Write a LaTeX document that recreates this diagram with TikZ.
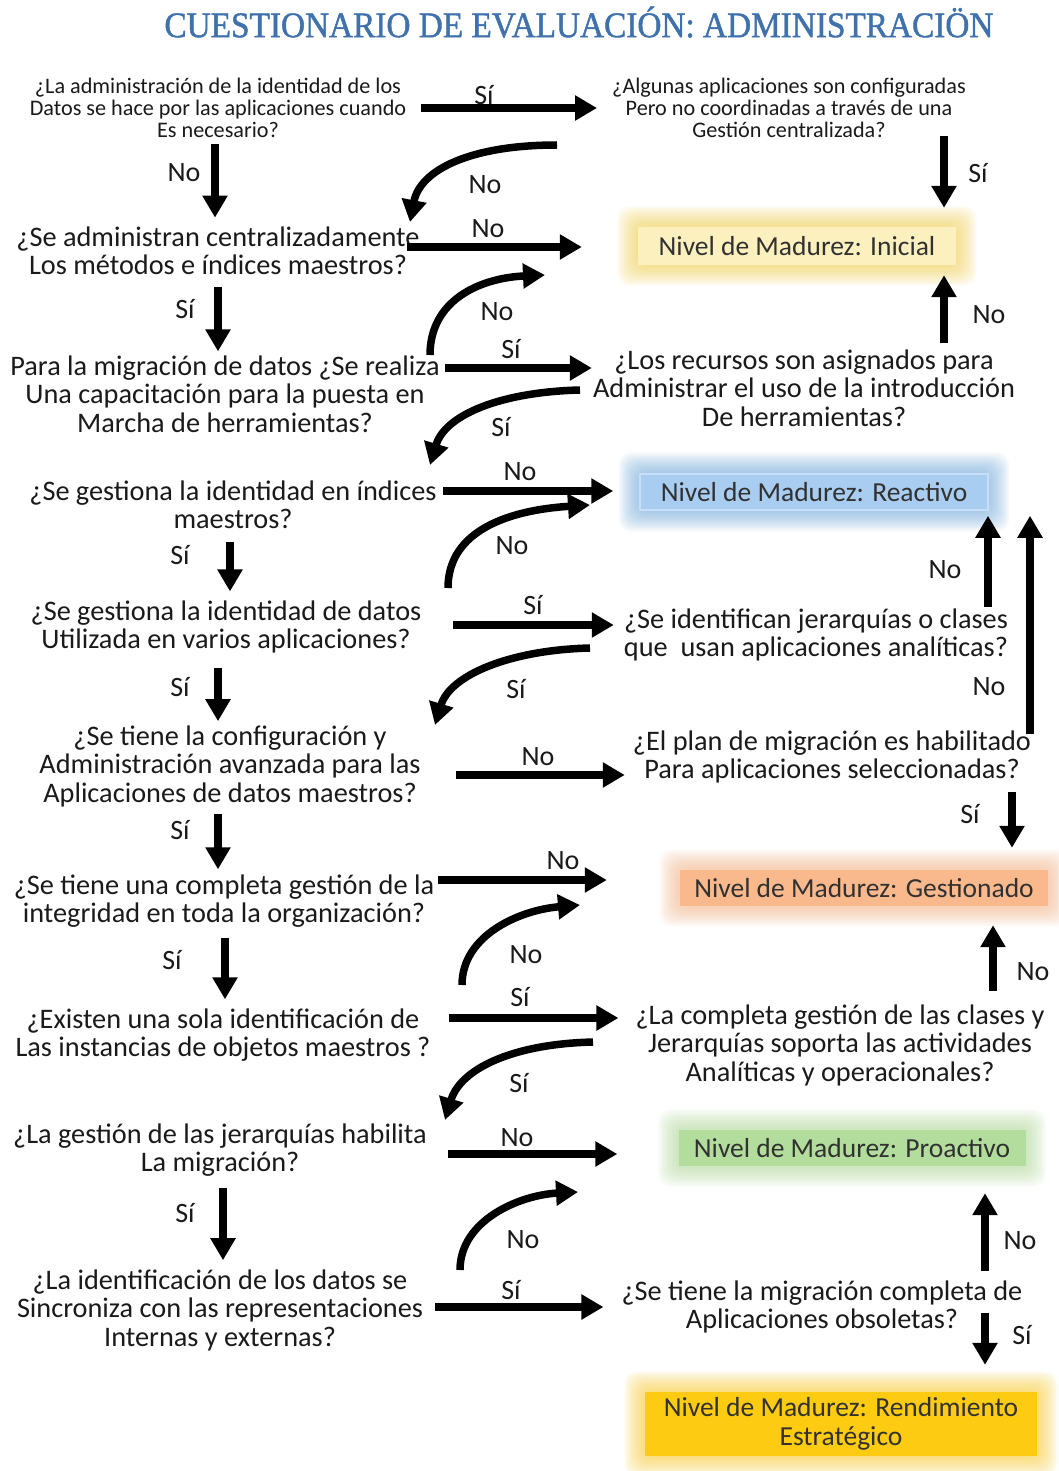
\documentclass[tikz,border=0pt]{standalone}
\usepackage{fontspec}
\setmainfont{Carlito}
\newfontfamily\titlefont[FakeStretch=0.925,FakeBold=1.2]{Liberation Serif}
\usetikzlibrary{arrows.meta,backgrounds,calc}

\definecolor{txt}{HTML}{1A1A1A}
\definecolor{titleblue}{HTML}{3F71AC}
\definecolor{iniGlow}{HTML}{F6D04A}
\definecolor{iniFill}{HTML}{FCF0BE}
\definecolor{reaGlow}{HTML}{6FA8DC}
\definecolor{reaFill}{HTML}{A9CDF0}
\definecolor{reaLine}{HTML}{C6DFF6}
\definecolor{gesGlow}{HTML}{F8B488}
\definecolor{gesFill}{HTML}{F9B98C}
\definecolor{proGlow}{HTML}{B2DA98}
\definecolor{proFill}{HTML}{B3DD9C}
\definecolor{renGlow}{HTML}{FBCB2A}
\definecolor{renFill}{HTML}{FCCB12}

% soft halo drawn behind a level box
\newcommand\glowbox[3]{%
  \begin{pgfonlayer}{background}
    \foreach \k in {1,...,#3}{
      \fill[#2, opacity=0.065, rounded corners=12pt]
        ($(#1.south west)+(-1.7*\k,1.7*\k)$) rectangle ($(#1.north east)+(1.7*\k,-1.7*\k)$);
    }
  \end{pgfonlayer}}

\begin{document}
\begin{tikzpicture}[x=1pt,y=-1pt,
  q/.style={align=center,inner sep=0pt,text=txt,font=\fontsize{28.3}{28.5}\selectfont},
  qs/.style={align=center,inner sep=0pt,text=txt,font=\fontsize{22.2}{22}\selectfont},
  lbl/.style={inner sep=0pt,text=txt,font=\fontsize{28}{28}\selectfont},
  level/.style={align=center,inner sep=0pt,text=txt!90,font=\fontsize{27.5}{29}\selectfont},
  arr/.style={draw=black,line width=7.5pt,-{Triangle[width=24pt,length=22pt]}},
]
\begin{pgfonlayer}{background}
  \fill[white] (0,0) rectangle (1058,1471);
\end{pgfonlayer}
\useasboundingbox (0,0) rectangle (1058,1471);

% title
\node[text=titleblue,font=\titlefont\fontsize{36}{36}\selectfont] (title) at (579,22)
  {CUESTIONARIO DE EVALUACIÓN: ADMINISTRACIÖN};

% questions, left column
\node[qs] (q1) at (218,108) {¿La administración de la identidad de los\\Datos se hace por las aplicaciones cuando\\Es necesario?};
\node[q] (q3) at (218,251) {¿Se administran centralizadamente\\Los métodos e índices maestros?};
\node[q] (q4) at (225,394) {Para la migración de datos ¿Se realiza\\Una capacitación para la puesta en\\Marcha de herramientas?};
\node[q] (q6) at (233,505) {¿Se gestiona la identidad en índices\\maestros?};
\node[q] (q7) at (226,627) {¿Se gestiona la identidad de datos\\Utilizada en varios aplicaciones?};
\node[q] (q9) at (230,766) {¿Se tiene la configuración y\\Administración avanzada para las\\Aplicaciones de datos maestros?};
\node[q] (q11) at (224,901) {¿Se tiene una completa gestión de la\\integridad en toda la organización?};
\node[q] (q13) at (223,1035) {¿Existen una sola identificación de\\Las instancias de objetos maestros ?};
\node[q] (q14) at (220,1150) {¿La gestión de las jerarquías habilita\\La migración?};
\node[q] (q16) at (220,1310) {¿La identificación de los datos se\\Sincroniza con las representaciones\\Internas y externas?};

% questions, right column
\node[qs] (q2) at (789,108) {¿Algunas aplicaciones son configuradas\\Pero no coordinadas a través de una\\Gestión centralizada?};
\node[q] (q5) at (804,388) {¿Los recursos son asignados para\\Administrar el uso de la introducción\\De herramientas?};
\node[q] (q8) at (816,635) {¿Se identifican jerarquías o clases\\que\ \ usan aplicaciones analíticas?};
\node[q] (q10) at (832,757) {¿El plan de migración es habilitado\\Para aplicaciones seleccionadas?};
\node[q] (q12) at (840,1045) {¿La completa gestión de las clases y\\Jerarquías soporta las actividades\\Analíticas y operacionales?};
\node[q] (q15) at (822,1307) {¿Se tiene la migración completa de\\Aplicaciones obsoletas?};

% maturity levels
\node[level,fill=iniFill,minimum width=318pt,minimum height=38pt] (inicial) at (797,246) {Nivel de Madurez: Inicial};
\node[level,fill=reaFill,draw=reaLine,line width=1.5pt,minimum width=348pt,minimum height=36pt] (reactivo) at (814,492) {Nivel de Madurez: Reactivo};
\node[level,fill=gesFill,minimum width=368pt,minimum height=36pt] (gestionado) at (864,888) {Nivel de Madurez: Gestionado};
\node[level,fill=proFill,minimum width=347pt,minimum height=36pt] (proactivo) at (852,1148) {Nivel de Madurez: Proactivo};
\node[level,fill=renFill,minimum width=392pt,minimum height=64pt] (rendimiento) at (841,1424) {Nivel de Madurez: Rendimiento\\Estratégico};

\glowbox{inicial}{iniGlow}{12}
\glowbox{reactivo}{reaGlow}{12}
\glowbox{gestionado}{gesGlow}{12}
\glowbox{proactivo}{proGlow}{12}
\glowbox{rendimiento}{renGlow}{12}

% straight connectors
\draw[arr,shorten <=15pt,shorten >=15pt] (q1.east |- 0,108) -- (q2.west |- 0,108);
\draw[arr,shorten <=-2pt,shorten >=19pt] (q2.south -| 944,0) -- (inicial.north -| 944,0);
\draw[arr,shorten <=6pt,shorten >=9pt] (q1.south -| 215,0) -- (q3.north -| 215,0);
\draw[arr,shorten <=-13pt,shorten >=56pt] (q3.east |- 0,247) -- (inicial.west |- 0,247);
\draw[arr,shorten <=6pt,shorten >=10pt] (q5.north -| 944,0) -- (inicial.south -| 944,0);
\draw[arr,shorten <=12pt,shorten >=4pt] (q3.south -| 218,0) -- (q4.north -| 218,0);
\draw[arr,shorten <=5pt,shorten >=1pt] (q4.east |- 0,368) -- (q5.west |- 0,368);
\draw[arr,shorten <=6pt,shorten >=26pt] (q6.east |- 0,491) -- (reactivo.west |- 0,491);
\draw[arr,shorten <=13pt,shorten >=9pt] (q6.south -| 230,0) -- (q7.north -| 230,0);
\draw[arr,shorten <=31pt,shorten >=10pt] (q7.east |- 0,625) -- (q8.west |- 0,625);
\draw[arr,shorten <=1pt,shorten >=5pt] (q8.north -| 988,0) -- (reactivo.south -| 988,0);
\draw[arr,shorten <=14pt,shorten >=4pt] (q7.south -| 218,0) -- (q9.north -| 218,0);
\draw[arr,shorten <=35pt,shorten >=8pt] (q9.east |- 0,775) -- (q10.west |- 0,775);
\draw[arr,shorten <=-4pt,shorten >=5pt] (q10.north -| 1030,0) -- (reactivo.south -| 1030,0);
\draw[arr,shorten <=8pt,shorten >=22pt] (q10.south -| 1012,0) -- (gestionado.north -| 1012,0);
\draw[arr,shorten <=7pt,shorten >=5pt] (q9.south -| 218,0) -- (q11.north -| 218,0);
\draw[arr,shorten <=4pt,shorten >=73pt] (q11.east |- 0,880) -- (gestionado.west |- 0,880);
\draw[arr,shorten <=13pt,shorten >=19pt] (q12.north -| 993,0) -- (gestionado.south -| 993,0);
\draw[arr,shorten <=10pt,shorten >=9pt] (q11.south -| 225,0) -- (q13.north -| 225,0);
\draw[arr,shorten <=18pt,shorten >=17pt] (q13.east |- 0,1018) -- (q12.west |- 0,1018);
\draw[arr,shorten <=21pt,shorten >=61pt] (q14.east |- 0,1154) -- (proactivo.west |- 0,1154);
\draw[arr,shorten <=9pt,shorten >=27pt] (q15.north -| 985,0) -- (proactivo.south -| 985,0);
\draw[arr,shorten <=11pt,shorten >=9pt] (q14.south -| 223,0) -- (q16.north -| 223,0);
\draw[arr,shorten <=12pt,shorten >=18pt] (q16.east |- 0,1307) -- (q15.west |- 0,1307);
\draw[arr,shorten <=-21pt,shorten >=27pt] (q15.south -| 985,0) -- (rendimiento.north -| 985,0);

% curved connectors
\coordinate (c1s) at (557,145);  \coordinate (c1e) at (410,222);
\coordinate (c2s) at (430,355);  \coordinate (c2e) at (545,275);
\coordinate (c3s) at (580,390);  \coordinate (c3e) at (430,465);
\coordinate (c4s) at (448,588);  \coordinate (c4e) at (590,505);
\coordinate (c5s) at (590,648);  \coordinate (c5e) at (435,725);
\coordinate (c6s) at (462,985);  \coordinate (c6e) at (580,905);
\coordinate (c7s) at (593,1042); \coordinate (c7e) at (445,1120);
\coordinate (c8s) at (460,1270); \coordinate (c8e) at (578,1192);
\draw[arr] (c1s) .. controls (470,145) and (420,170) .. (c1e);
\draw[arr] (c2s) .. controls (430,300) and (480,278) .. (c2e);
\draw[arr] (c3s) .. controls (500,392) and (445,415) .. (c3e);
\draw[arr] (c4s) .. controls (448,530) and (510,510) .. (c4e);
\draw[arr] (c5s) .. controls (510,650) and (450,675) .. (c5e);
\draw[arr] (c6s) .. controls (462,935) and (520,910) .. (c6e);
\draw[arr] (c7s) .. controls (510,1044) and (460,1070) .. (c7e);
\draw[arr] (c8s) .. controls (460,1220) and (520,1195) .. (c8e);

% branch labels
\node[lbl] (l1) at (484,95) {Sí};
\node[lbl] (l2) at (978,173) {Sí};
\node[lbl] (l3) at (184,173) {No};
\node[lbl] (l4) at (485,185) {No};
\node[lbl] (l5) at (488,229) {No};
\node[lbl] (l6) at (989,315) {No};
\node[lbl] (l7) at (185,309) {Sí};
\node[lbl] (l8) at (497,312) {No};
\node[lbl] (l9) at (511,349) {Sí};
\node[lbl] (l10) at (501,427) {Sí};
\node[lbl] (l11) at (520,472) {No};
\node[lbl] (l12) at (180,555) {Sí};
\node[lbl] (l13) at (512,546) {No};
\node[lbl] (l14) at (533,605) {Sí};
\node[lbl] (l15) at (945,570) {No};
\node[lbl] (l16) at (516,689) {Sí};
\node[lbl] (l17) at (180,687) {Sí};
\node[lbl] (l18) at (538,757) {No};
\node[lbl] (l19) at (989,687) {No};
\node[lbl] (l20) at (970,814) {Sí};
\node[lbl] (l21) at (180,830) {Sí};
\node[lbl] (l22) at (563,861) {No};
\node[lbl] (l23) at (1033,972) {No};
\node[lbl] (l24) at (526,955) {No};
\node[lbl] (l25) at (172,960) {Sí};
\node[lbl] (l26) at (520,997) {Sí};
\node[lbl] (l27) at (519,1083) {Sí};
\node[lbl] (l28) at (517,1138) {No};
\node[lbl] (l29) at (1020,1241) {No};
\node[lbl] (l30) at (523,1240) {No};
\node[lbl] (l31) at (185,1213) {Sí};
\node[lbl] (l32) at (511,1290) {Sí};
\node[lbl] (l33) at (1022,1335) {Sí};
\end{tikzpicture}
\end{document}
